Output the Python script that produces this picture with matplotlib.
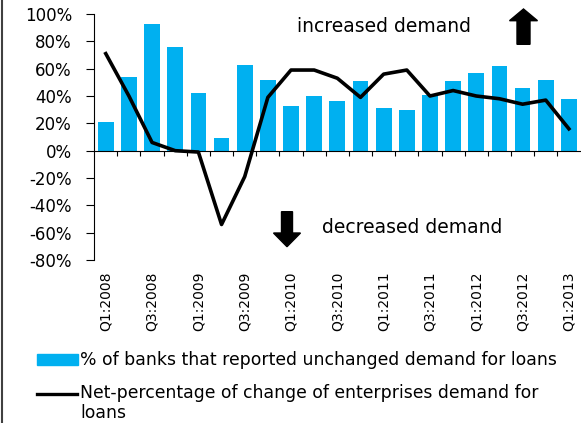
"""Bank lending survey: enterprises' demand for loans, Q1:2008 - Q1:2013."""

import matplotlib
matplotlib.use("Agg")
import matplotlib.pyplot as plt
from matplotlib.lines import Line2D
from matplotlib.patches import FancyArrow, Rectangle
from matplotlib.ticker import FuncFormatter
import numpy as np

plt.rcParams.update({
    "font.family": "DejaVu Sans",
    "axes.unicode_minus": False,
    "figure.facecolor": "white",
    "axes.facecolor": "white",
})

# --- data -------------------------------------------------------------
quarters = [f"Q{q}:{y}" for y in range(2008, 2014) for q in (1, 2, 3, 4)][:21]
unchanged = [21, 54, 93, 76, 42, 9, 63, 52, 33, 40, 36, 51, 31, 30, 41, 51,
             57, 62, 46, 52, 38]
net_change = [71, 40, 6, 0, -1, -54, -19, 39, 59, 59, 53, 39, 56, 59, 40, 44,
              40, 38, 34, 37, 16]
y_ticks = list(range(-80, 101, 20))

bar_label = "% of banks that reported unchanged demand for loans"
line_label = "Net-percentage of change of enterprises demand for\nloans"

BAR_COLOR = "#00B0F0"
LINE_COLOR = "black"

# --- figure -------------------------------------------------------------
fig = plt.figure(figsize=(5.81, 4.23), dpi=100)
ax = fig.add_axes([0.1621, 0.3853, 0.837, 0.5816])

x = np.arange(len(quarters))
ax.bar(x, unchanged, width=0.68, color=BAR_COLOR, zorder=2)
ax.plot(x, net_change, color=LINE_COLOR, linewidth=2.6,
        solid_joinstyle="round", zorder=3)

ax.set_xlim(-0.5, len(quarters) - 0.5)
ax.set_ylim(-80, 100)

for side in ("top", "right"):
    ax.spines[side].set_visible(False)
ax.spines["left"].set_linewidth(0.8)
ax.spines["bottom"].set_position(("data", 0))
ax.spines["bottom"].set_linewidth(0.8)

ax.set_yticks(y_ticks)
ax.yaxis.set_major_formatter(FuncFormatter(lambda v, _: f"{v:.0f}%"))
ax.tick_params(axis="y", direction="out", length=5.5, width=0.8,
               pad=10.5, labelsize=12)

# tick marks between categories on the zero line
ax.set_xticks(x[:-1] + 0.5)
ax.tick_params(axis="x", direction="out", length=3.5, width=0.8,
               labelbottom=False)

# category labels below the plot
sec = ax.secondary_xaxis(0)
sec.set_xticks(x[::2], quarters[::2], rotation=90)
sec.tick_params(length=0, pad=8.5, labelsize=10)
sec.spines["bottom"].set_visible(False)

# annotations
fig.text(0.5117, 0.9243, "increased demand", fontsize=13.5, va="baseline")
fig.text(0.5537, 0.4484, "decreased demand", fontsize=13.5, va="baseline")
fig.patches.append(FancyArrow(5.235, 3.787, 0, 0.353, width=0.13,
                              head_width=0.28, head_length=0.117,
                              length_includes_head=True, color="black",
                              transform=fig.dpi_scale_trans))
fig.patches.append(FancyArrow(2.87, 2.113, 0, -0.35, width=0.11,
                              head_width=0.27, head_length=0.137,
                              length_includes_head=True, color="black",
                              transform=fig.dpi_scale_trans))

# legend, drawn by hand so the line sits next to the first text line
fig.patches.append(Rectangle((0.37, 4.23 - 3.65), 0.41, 0.107,
                             color=BAR_COLOR, transform=fig.dpi_scale_trans))
fig.text(0.80, 4.23 - 3.60, bar_label, fontsize=12.4, va="center",
         transform=fig.dpi_scale_trans)
fig.add_artist(Line2D([0.37, 0.77], [4.23 - 3.94, 4.23 - 3.94],
                      color=LINE_COLOR, linewidth=2.4,
                      transform=fig.dpi_scale_trans))
fig.text(0.80, 4.23 - 3.94 + 0.095, line_label, fontsize=12.4, va="top",
         linespacing=1.1, transform=fig.dpi_scale_trans)

# thin frame line down the left edge
fig.add_artist(Line2D([0.003, 0.003], [0, 1], color="#404040", linewidth=1.5,
                      transform=fig.transFigure))

fig.savefig("out.png", dpi=100)
